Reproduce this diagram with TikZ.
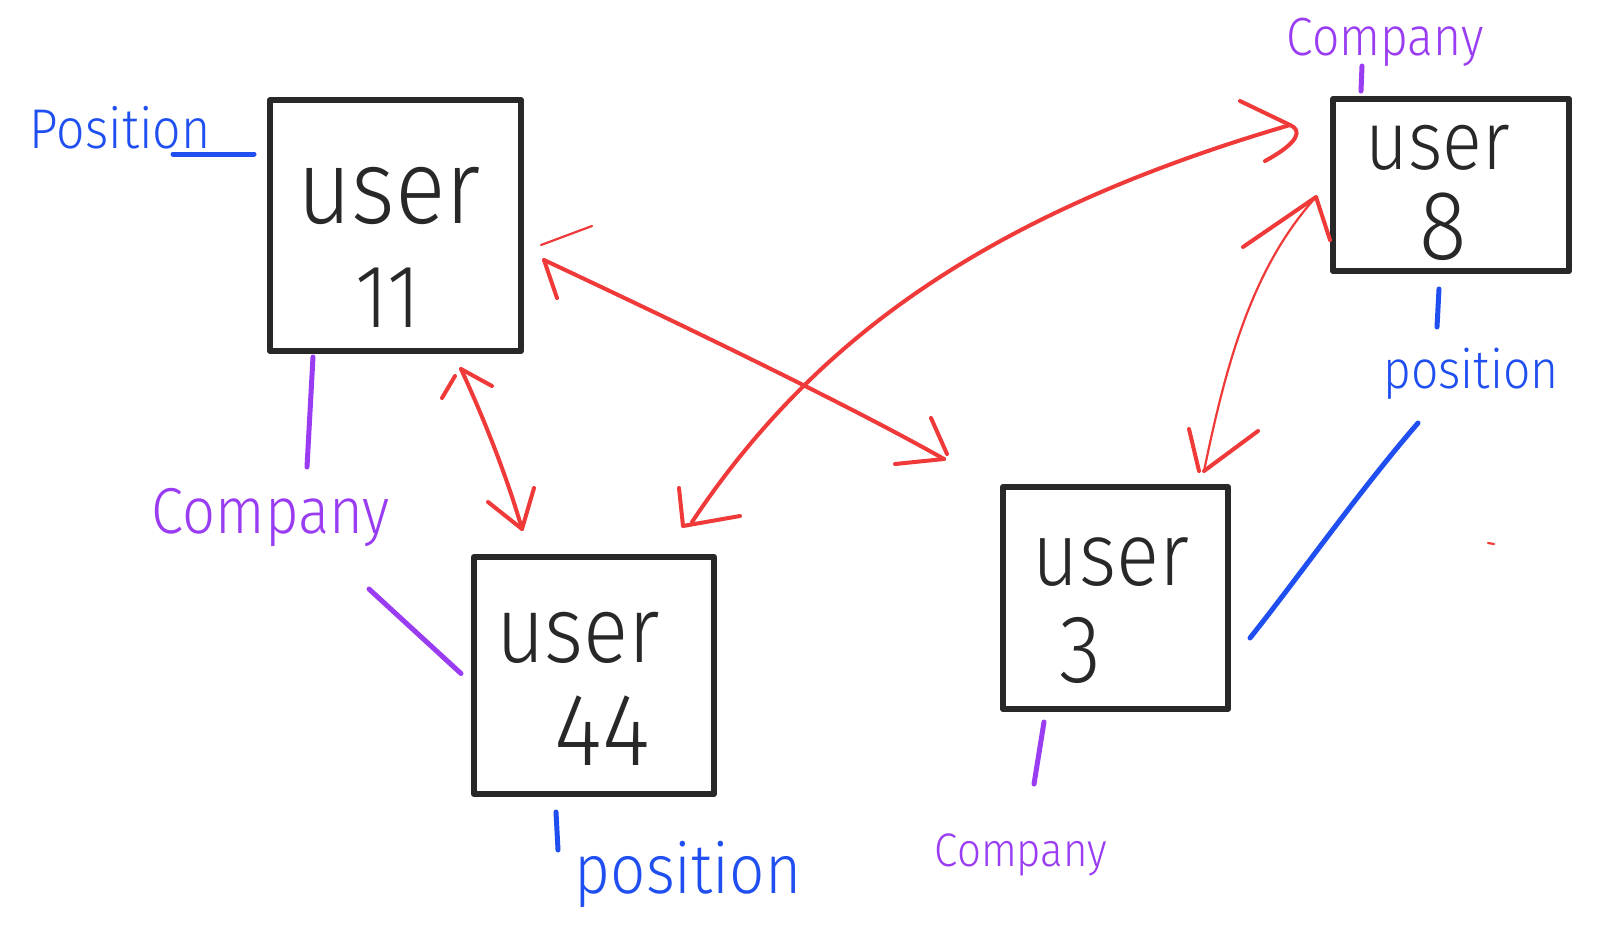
\documentclass[tikz,border=0pt]{standalone}
\usepackage{fontspec}
\setmainfont{Fira Sans Light}
\usetikzlibrary{calc}
\definecolor{ink}{HTML}{282828}
\definecolor{penblue}{HTML}{1F4FF0}
\definecolor{penpurple}{HTML}{9A3CF2}
\definecolor{penred}{HTML}{F03A3A}
\tikzset{
  userbox/.style={draw=ink, line width=6pt, rectangle, inner sep=0pt, line join=round},
  usertxt/.style={inner sep=0pt, text=ink, yscale=1.12},
  bluetxt/.style={inner sep=0pt, text=penblue, yscale=1.12},
  purptxt/.style={inner sep=0pt, text=penpurple, yscale=1.12},
  blueline/.style={draw=penblue, line width=5pt, line cap=round},
  purpline/.style={draw=penpurple, line width=5pt, line cap=round},
  redline/.style={draw=penred, line width=4pt, line cap=round, line join=round},
  redthin/.style={draw=penred, line width=2.2pt, line cap=round, line join=round},
}
\newcommand{\fs}[1]{\fontsize{#1}{#1}\selectfont}
\begin{document}
\begin{tikzpicture}[x=1pt,y=-1pt]
\fill[white] (0,0) rectangle (1600,932);
\useasboundingbox (0,0) rectangle (1600,932);

% boxes
\node[userbox, minimum width=251pt, minimum height=251pt] (u11) at (395.5,225.5) {};
\node[userbox, minimum width=236pt, minimum height=172pt] (u8) at (1451,185) {};
\node[userbox, minimum width=240pt, minimum height=237pt] (u44) at (594,675.5) {};
\node[userbox, minimum width=225pt, minimum height=222pt] (u3) at (1115.5,598) {};

% box texts
\node[usertxt, font=\fs{94}] (u11a) at (389,196) {user};
\node[usertxt, font=\fs{80}] (u11b) at (388,298) {11};
\node[usertxt, font=\fs{74}] (u8a) at (1438,148) {user};
\node[usertxt, font=\fs{88}] (u8b) at (1443,227) {8};
\node[usertxt, font=\fs{84}] (u44a) at (578,638) {user};
\node[usertxt, font=\fs{92}] (u44b) at (602,731) {44};
\node[usertxt, font=\fs{80}] (u3a) at (1111,562) {user};
\node[usertxt, font=\fs{86}] (u3b) at (1080,650) {3};

% attribute labels
\node[bluetxt, font=\fs{50}] (pos11) at (120,128) {Position};
\node[purptxt, font=\fs{48}] (com8) at (1385,42) {Company};
\node[bluetxt, font=\fs{48}] (pos8) at (1471,374) {position};
\node[purptxt, font=\fs{58}] (com11) at (271,518) {Company};
\node[bluetxt, font=\fs{62}] (pos44) at (688,874) {position};
\node[purptxt, font=\fs{42}] (com3) at (1021,855) {Company};

% label connectors
\coordinate (k11p) at (173,154);
\draw[blueline] (k11p) -- ($(k11p -| u11.west)+(-13,0)$);
\coordinate (k8c) at (1362,66);
\draw[purpline] (k8c) -- ($(k8c |- u8.north)+(-1,-5)$);
\coordinate (k8p) at (1437,327);
\draw[blueline] ($(u8.south -| k8p)+(2,15)$) -- (k8p);
\coordinate (k11c) at (307,467);
\draw[purpline] ($(u11.south -| k11c)+(6,3)$) -- (k11c);
\coordinate (k44c) at (369,589);
\draw[purpline] (k44c) -- ($(u44.west)+(-10,-2)$);
\coordinate (k44p) at (558,850);
\draw[blueline] ($(u44.south -| k44p)+(-2,15)$) -- (k44p);
\coordinate (k3c) at (1034,784);
\draw[purpline] ($(u3.south -| k3c)+(10,10)$) -- (k3c);
\coordinate (k3p) at (1418,423);
\draw[blueline] ($(u3.east)+(19,40)$) .. controls (1300,575) and (1360,490) .. (k3p);

% red arrows
% user 11 <-> user 3
\coordinate (a1) at (544,260);
\coordinate (b1) at (944,459);
\draw[redline] (a1) .. controls (640,305) and (840,400) .. (b1);
\draw[redthin] (541,245) -- (592,226);
\draw[redline] (a1) -- (557,298);
\draw[redline] (931,418) -- (947,454);
\draw[redline] (895,464) -- (b1);

% user 11 <-> user 44
\coordinate (a2) at (461,369);
\coordinate (b2) at (522,529);
\draw[redline] (a2) .. controls (480,410) and (505,470) .. (b2);
\draw[redline] (442,398) -- (455,376);
\draw[redline] (a2) -- (492,386);
\draw[redline] (488,502) -- (b2) -- (534,488);

% user 44 <-> user 8
\coordinate (a3) at (692,522);
\coordinate (b3) at (1290,125);
\draw[redline] (a3) .. controls (820,330) and (1000,210) .. (b3);
\draw[redline] (679,488) -- (683,526) -- (740,516);
\draw[redline] (1240,101) -- (b3) .. controls (1302,130) and (1300,142) .. (1265,161);

% user 8 <-> user 3
\coordinate (a4) at (1204,471);
\coordinate (b4) at (1316,197);
\draw[redthin] (a4) .. controls (1225,370) and (1250,270) .. (b4);
\draw[redline] (1189,429) -- (1199,471);
\draw[redline] (1258,431) -- (a4);
\draw[redline] (1243,247) -- (b4) -- (1330,240);

% stray mark
\draw[redthin] (1488,543) -- (1494,544);
\end{tikzpicture}
\end{document}
